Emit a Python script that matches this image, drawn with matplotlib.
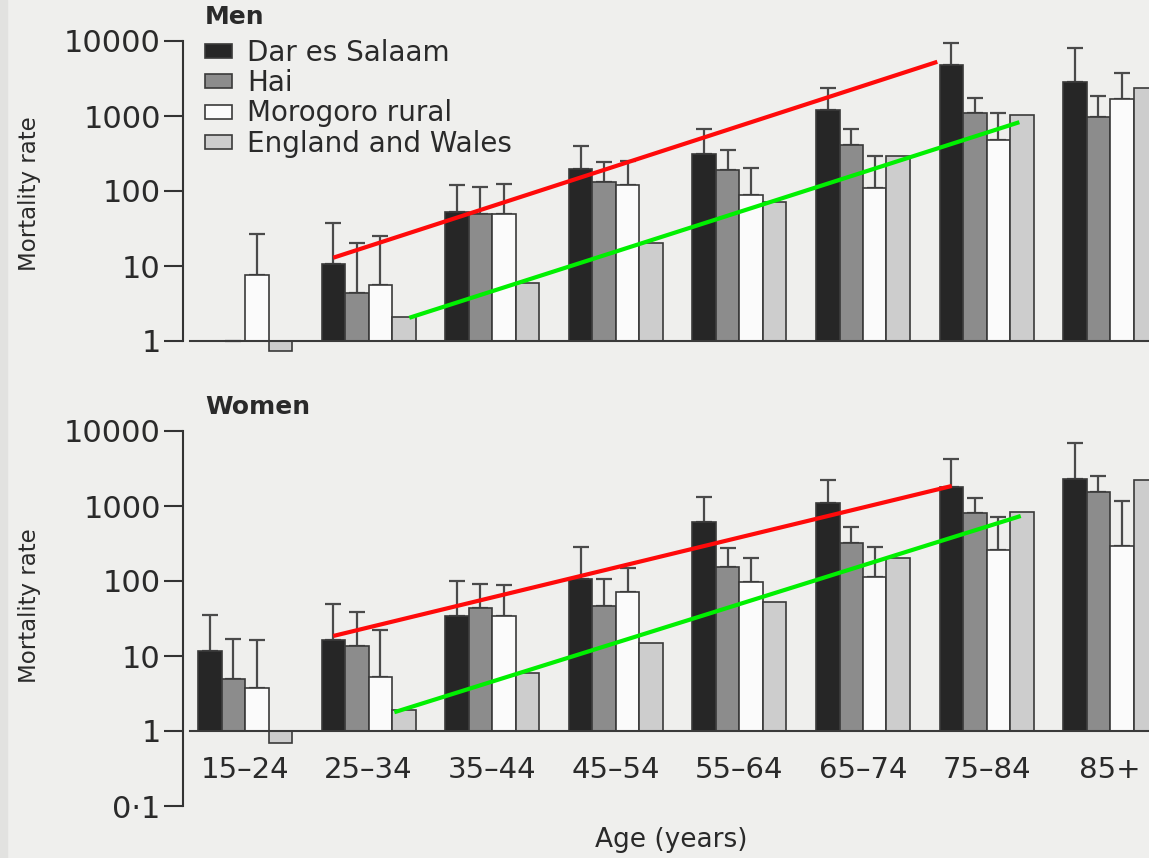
import numpy as np
import matplotlib.pyplot as plt
from matplotlib.patches import Rectangle

nan = np.nan

ages = ['15–24', '25–34', '35–44', '45–54', '55–64', '65–74', '75–84', '85+']
sites = ['Dar es Salaam', 'Hai', 'Morogoro rural', 'England and Wales']

# mortality rates (bar heights) and upper error limits, men
men_dar = [nan, 10.5, 53, 198, 313, 1220, 4760, 2830]
men_hai = [1.0, 4.4, 50, 131, 193, 408, 1080, 975]
men_mor = [7.7, 5.5, 50, 122, 88, 110, 486, 1660]
men_ew = [0.73, 2.1, 6.0, 20, 72, 290, 1016, 2376]
men_dar_hi = [nan, 38, 122, 404, 675, 2330, 9460, 8110]
men_hai_hi = [nan, 20, 114, 245, 347, 661, 1750, 1840]
men_mor_hi = [27, 25, 123, 255, 200, 291, 1080, 3690]

# women
women_dar = [11.8, 16.3, 34, 105, 618, 1086, 1810, 2270]
women_hai = [5.0, 13.6, 44, 46, 155, 318, 799, 1521]
women_mor = [3.7, 5.2, 34, 72, 96, 114, 259, 293]
women_ew = [0.70, 1.9, 5.9, 15, 53, 205, 824, 2222]
women_dar_hi = [35, 49, 101, 281, 1306, 2222, 4234, 6850]
women_hai_hi = [16.9, 39, 91, 106, 278, 530, 1265, 2535]
women_mor_hi = [16.3, 22, 88, 150, 205, 287, 720, 1166]

# trend lines: (age-group position, rate) at each end
men_red = ([0.714, 5.601], [12.9, 5280])
men_green = ([1.329, 6.265], [2.04, 827])
women_red = ([0.714, 5.718], [18.5, 1849])
women_green = ([1.208, 6.276], [1.78, 736])

colors = ['#262626', '#8c8c8c', '#fbfbfb', '#cdcdcd']
edge = '#3a3a3a'
bg = '#efefed'
ink = '#2a2a2a'

W, H = 1149, 858
fig = plt.figure(figsize=(W / 100, H / 100), dpi=100, facecolor=bg)
plt.rcParams['font.family'] = 'DejaVu Sans'

# slightly darker scan edge down the left side
fig.patches.append(Rectangle((0, 0), 7 / W, 1, transform=fig.transFigure,
                             color='#e2e2e0', zorder=0))

x = np.arange(len(ages))
w = 0.19
offsets = [-1.5 * w, -0.5 * w, 0.5 * w, 1.5 * w]
xlim = (-0.502, 7.40)


def px_axes(top, bottom):
    left = 183
    right = 245 + xlim[1] * 123.6
    return [left / W, 1 - bottom / H, (right - left) / W, (bottom - top) / H]


def panel(ax, vals, his, ylim, spine_low, red, green):
    ax.set_facecolor('none')
    ax.set_yscale('log')
    ax.set_xlim(*xlim)
    ax.set_ylim(*ylim)
    bars = []
    for i, (v, hi) in enumerate(zip(vals, his)):
        v = np.array(v, dtype=float)
        b = ax.bar(x + offsets[i], v - 1, bottom=1, width=w, color=colors[i],
                   edgecolor=edge, linewidth=1.2, label=sites[i], zorder=2)
        bars.append(b)
        if hi is not None:
            hi = np.array(hi, dtype=float)
            err = np.vstack([np.zeros_like(v), hi - v])
            ax.errorbar(x + offsets[i], v, yerr=err, fmt='none', ecolor='#4a4a4a',
                        elinewidth=1.6, capsize=6, capthick=1.6, zorder=1)
    ax.plot([-0.445, xlim[1]], [1, 1], color='#3a3a3a', lw=1.5, zorder=3)
    ax.plot(*red, color='#ff0a0a', lw=3, solid_capstyle='butt', zorder=4)
    ax.plot(*green, color='#00f000', lw=3, solid_capstyle='butt', zorder=4)

    for s in ['top', 'right', 'bottom']:
        ax.spines[s].set_visible(False)
    ax.spines['left'].set_bounds(spine_low, 1e4)
    ax.spines['left'].set_linewidth(1.5)
    ax.spines['left'].set_color('#333333')
    ticks = [t for t in [0.1, 1, 10, 100, 1000, 10000] if t >= spine_low]
    ax.set_yticks(ticks)
    ax.set_yticklabels(['0·1' if t < 1 else str(int(t)) for t in ticks])
    ax.minorticks_off()
    ax.tick_params(axis='y', length=14, width=1.5, color='#333333',
                   labelsize=22, labelcolor=ink, pad=2)
    ax.set_xticks([])
    return bars


ax1 = fig.add_axes(px_axes(26, 359.75))
bars = panel(ax1, [men_dar, men_hai, men_mor, men_ew],
             [men_dar_hi, men_hai_hi, men_mor_hi, None],
             (10 ** -0.25, 10 ** 4.2), 1, men_red, men_green)

ax2 = fig.add_axes(px_axes(416, 809.75))
panel(ax2, [women_dar, women_hai, women_mor, women_ew],
      [women_dar_hi, women_hai_hi, women_mor_hi, None],
      (10 ** -1.05, 10 ** 4.2), 0.1, women_red, women_green)

for xi, lab in zip(x, ages):
    ax2.text(xi, 10 ** -0.52, lab, ha='center', va='center', fontsize=21,
             color=ink)

ax1.legend(bars, sites, loc='upper left', bbox_to_anchor=(205 / W, 1 - 39 / H),
           bbox_transform=fig.transFigure, frameon=False, fontsize=20,
           handlelength=0.97, handleheight=0.4, handletextpad=0.55,
           labelspacing=0.08, borderpad=0, borderaxespad=0, labelcolor=ink)

fig.text(205 / W, 1 - 17 / H, 'Men', fontsize=18, fontweight='bold',
         va='center', ha='left', color=ink)
fig.text(205 / W, 1 - 407 / H, 'Women', fontsize=18, fontweight='bold',
         va='center', ha='left', color=ink)
for yc in (194, 606):
    fig.text(30 / W, 1 - yc / H, 'Mortality rate', rotation=90, fontsize=16.5,
             ha='center', va='center', color=ink)
fig.text(671 / W, 1 - 840 / H, 'Age (years)', fontsize=19, ha='center',
         va='center', color=ink)

fig.savefig('out.png', dpi=100, facecolor=bg)
